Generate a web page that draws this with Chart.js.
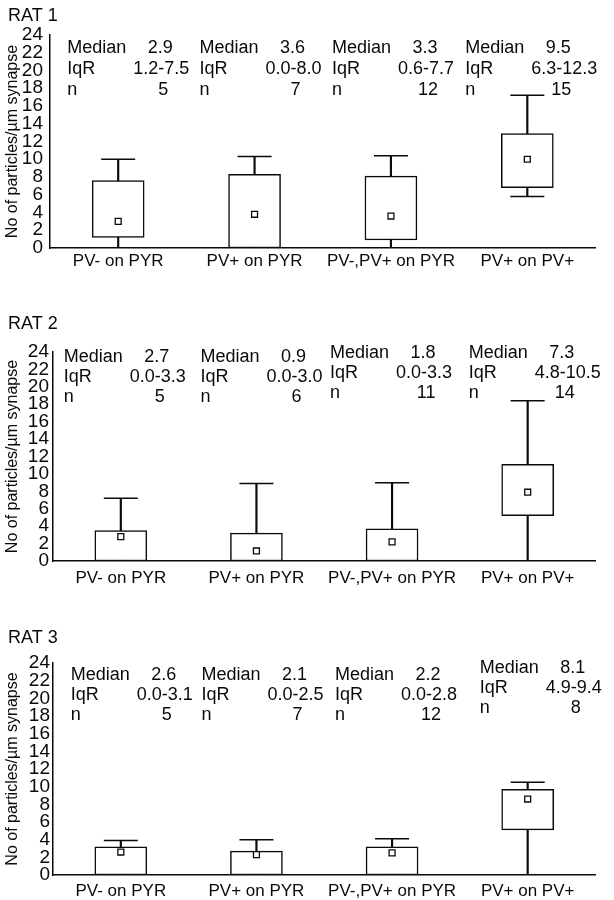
<!DOCTYPE html>
<html><head><meta charset="utf-8">
<script src="https://cdn.jsdelivr.net/npm/chart.js@4.4.1/dist/chart.umd.min.js"></script>
<style>
html,body{margin:0;padding:0;background:#fff;}
body{width:614px;height:900px;position:relative;overflow:hidden;}
canvas{position:absolute;left:0;}
</style></head><body>
<canvas id="c1" width="614" height="295" style="top:0px"></canvas>
<canvas id="c2" width="614" height="305" style="top:295px"></canvas>
<canvas id="c3" width="614" height="300" style="top:600px"></canvas>
<script>
// ---------- DATA ----------
const categories = ['PV- on PYR', 'PV+ on PYR', 'PV-,PV+ on PYR', 'PV+ on PV+'];
const yAxisTitle = 'No of particles/\u00B5m synapse';

// RAT 1
const rat1BoxLow    = [1.2, 0.0, 0.9, 6.8];
const rat1BoxHigh   = [7.6, 8.3, 8.1, 12.9];
const rat1WhiskLow  = [0.0, 0.0, 0.0, 5.8];
const rat1WhiskHigh = [10.0, 10.3, 10.4, 17.2];
const rat1Marker    = [3.0, 3.8, 3.6, 10.0];
const rat1Median    = ['2.9', '3.6', '3.3', '9.5'];
const rat1IqR       = ['1.2-7.5', '0.0-8.0', '0.6-7.7', '6.3-12.3'];
const rat1N         = ['5', '7', '12', '15'];

// RAT 2
const rat2BoxLow    = [0.0, 0.0, 0.0, 5.2];
const rat2BoxHigh   = [3.5, 3.2, 3.7, 11.1];
const rat2WhiskLow  = [0.0, 0.0, 0.0, 0.0];
const rat2WhiskHigh = [7.2, 8.9, 9.0, 18.4];
const rat2Marker    = [2.8, 1.15, 2.2, 7.9];
const rat2Median    = ['2.7', '0.9', '1.8', '7.3'];
const rat2IqR       = ['0.0-3.3', '0.0-3.0', '0.0-3.3', '4.8-10.5'];
const rat2N         = ['5', '6', '11', '14'];

// RAT 3
const rat3BoxLow    = [0.0, 0.0, 0.0, 5.1];
const rat3BoxHigh   = [3.2, 2.7, 3.2, 9.7];
const rat3WhiskLow  = [0.0, 0.0, 0.0, 0.0];
const rat3WhiskHigh = [3.9, 4.0, 4.1, 10.5];
const rat3Marker    = [2.6, 2.3, 2.5, 8.6];
const rat3Median    = ['2.6', '2.1', '2.2', '8.1'];
const rat3IqR       = ['0.0-3.1', '0.0-2.5', '0.0-2.8', '4.9-9.4'];
const rat3N         = ['5', '7', '12', '8'];

// ---------- STYLE ----------
const FONT = "'Liberation Sans', Arial, Helvetica, sans-serif";
const INK = '#0a0a0a';

const statsPlugin = {
  id: 'stats',
  afterDraw(chart, args, o) {
    const ctx = chart.ctx;
    const xs = chart.scales.x;
    const top = chart.chartArea.top;
    ctx.save();
    ctx.fillStyle = INK;
    ctx.textBaseline = 'alphabetic';
    ctx.font = '18px ' + FONT;
    ctx.textAlign = 'left';
    ctx.fillText(o.title, 8, o.titleY);
    for (let i = 0; i < o.median.length; i++) {
      const left = xs.getPixelForValue(i) + o.colOffset[i];
      const y0 = top + o.rowTop + o.colDy[i];
      const a = left + 94;
      ctx.textAlign = 'left';
      ctx.fillText('Median', left, y0);
      ctx.fillText('IqR', left, y0 + o.gap);
      ctx.fillText('n', left, y0 + 2 * o.gap);
      ctx.textAlign = 'center';
      ctx.fillText(o.median[i], a - 1, y0);
      ctx.fillText(o.n[i], a + 2, y0 + 2 * o.gap);
      const s = o.iqr[i];
      const lo = s.split('-')[0];
      const wLo = ctx.measureText(lo).width;
      const wD = ctx.measureText('-').width;
      ctx.textAlign = 'left';
      ctx.fillText(s, a - wLo - wD / 2, y0 + o.gap);
    }
    ctx.restore();
  }
};

function makeChart(id, p) {
  const canvas = document.getElementById(id);
  const H = canvas.height;
  new Chart(canvas, {
    type: 'bar',
    data: {
      labels: categories,
      datasets: [
        {
          type: 'bar', order: 4, grouped: false,
          data: p.whiskLow.map((v, i) => [v, p.whiskHigh[i]]),
          backgroundColor: INK, borderWidth: 0, barThickness: 1.5
        },
        {
          type: 'bar', order: 3, grouped: false,
          data: p.boxLow.map((v, i) => [v, p.boxHigh[i]]),
          backgroundColor: '#ffffff', borderColor: INK, borderWidth: 1.5,
          borderSkipped: false, barThickness: 52
        },
        {
          type: 'line', order: 2, showLine: false,
          data: p.whiskHigh,
          pointStyle: 'line', pointRadius: 17, pointBorderWidth: 1.5,
          borderColor: INK, pointBorderColor: INK
        },
        {
          type: 'line', order: 2, showLine: false,
          data: p.whiskLow.map(v => (v > 0 ? v : null)),
          pointStyle: 'line', pointRadius: 17, pointBorderWidth: 1.5,
          borderColor: INK, pointBorderColor: INK
        },
        {
          type: 'line', order: 1, showLine: false,
          data: p.marker,
          pointStyle: 'rect', pointRadius: 4.2, pointBorderWidth: 1.3,
          pointBackgroundColor: '#ffffff', pointBorderColor: INK, borderColor: INK
        }
      ]
    },
    options: {
      responsive: false,
      animation: false,
      events: [],
      layout: { padding: { top: p.chartTop, right: 9, left: 0, bottom: 0 } },
      plugins: {
        legend: { display: false },
        tooltip: { enabled: false },
        stats: {
          title: p.title, titleY: p.titleY,
          median: p.median, iqr: p.iqr, n: p.n,
          colOffset: p.colOffset, colDy: p.colDy, rowTop: p.rowTop, gap: p.gap
        }
      },
      scales: {
        x: {
          type: 'category',
          offset: true,
          grid: { display: false, drawTicks: false, tickLength: 0 },
          border: { display: true, color: INK, width: 1.5 },
          ticks: { color: INK, font: { family: FONT, size: 17 }, padding: p.xPad, maxRotation: 0, autoSkip: false },
          afterFit: s => { s.height = H - p.chartBottom; }
        },
        y: {
          min: 0, max: 24,
          grid: { display: false, drawTicks: false, tickLength: 0 },
          border: { display: true, color: INK, width: 1.5 },
          ticks: { stepSize: 2, autoSkip: false, color: INK, font: { family: FONT, size: 19 }, padding: p.yPad },
          title: { display: true, text: yAxisTitle, color: INK, font: { family: FONT, size: 16 }, padding: { top: 3, bottom: 0 } },
          afterFit: s => { s.width = p.axisX; }
        }
      }
    },
    plugins: [statsPlugin]
  });
}

makeChart('c1', {
  title: 'RAT 1', titleY: 21,
  boxLow: rat1BoxLow, boxHigh: rat1BoxHigh, whiskLow: rat1WhiskLow, whiskHigh: rat1WhiskHigh, marker: rat1Marker,
  median: rat1Median, iqr: rat1IqR, n: rat1N,
  chartTop: 35, chartBottom: 248, axisX: 50, xPad: 3, yPad: 7,
  colOffset: [-51, -55, -59, -62], colDy: [0, 0, 0, 0], rowTop: 18, gap: 21
});
makeChart('c2', {
  title: 'RAT 2', titleY: 34,
  boxLow: rat2BoxLow, boxHigh: rat2BoxHigh, whiskLow: rat2WhiskLow, whiskHigh: rat2WhiskHigh, marker: rat2Marker,
  median: rat2Median, iqr: rat2IqR, n: rat2N,
  chartTop: 57, chartBottom: 266, axisX: 53, xPad: 7, yPad: 4,
  colOffset: [-57, -56, -62, -59], colDy: [0, 0, -4, -4], rowTop: 10, gap: 20
});
makeChart('c3', {
  title: 'RAT 3', titleY: 43,
  boxLow: rat3BoxLow, boxHigh: rat3BoxHigh, whiskLow: rat3WhiskLow, whiskHigh: rat3WhiskHigh, marker: rat3Marker,
  median: rat3Median, iqr: rat3IqR, n: rat3N,
  chartTop: 63, chartBottom: 275, axisX: 53, xPad: 6, yPad: 3,
  colOffset: [-50, -55, -57, -48], colDy: [0, 0, 0, -7], rowTop: 17, gap: 20
});
</script>
</body></html>
